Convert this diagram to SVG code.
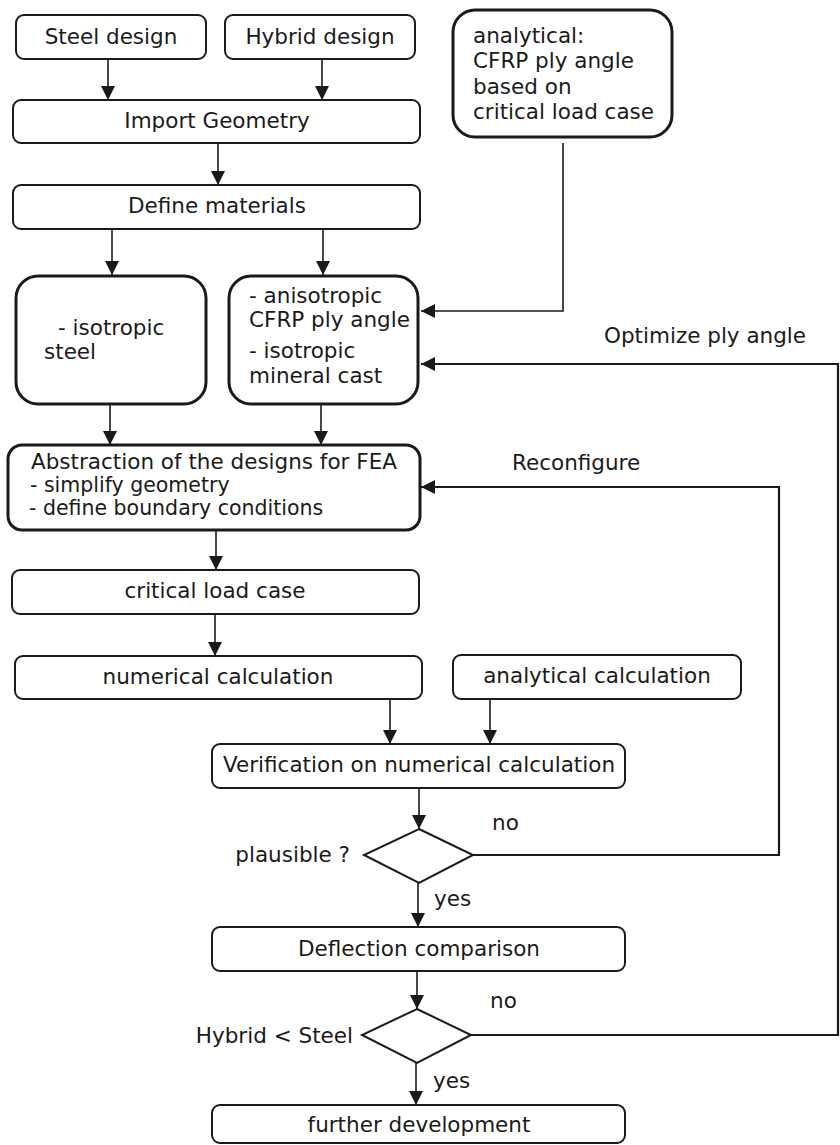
<svg xmlns="http://www.w3.org/2000/svg" width="840" height="1145" viewBox="0 0 840 1145">
<defs>
<style>
text{font-family:"DejaVu Sans","Verdana",sans-serif;font-size:21.5px;fill:#1a1a1a}
.c{text-anchor:middle}
.e{text-anchor:end}
.sm{font-size:20.5px}
.box{fill:#fff;stroke:#1a1a1a;stroke-width:2}
.thick{fill:#fff;stroke:#1a1a1a;stroke-width:3}
.dia{fill:#fff;stroke:#1a1a1a;stroke-width:2}
.ar{fill:none;stroke:#1a1a1a;stroke-width:1.6;marker-end:url(#ah)}
.lp{fill:none;stroke:#1a1a1a;stroke-width:2.2;marker-end:url(#ah)}
</style>
<marker id="ah" markerUnits="userSpaceOnUse" markerWidth="14" markerHeight="14" refX="14" refY="7" orient="auto">
<path d="M0,0 L14,7 L0,14 z" fill="#1a1a1a"/>
</marker>
</defs>
<rect width="840" height="1145" fill="#fff"/>

<g id="connectors">
<line class="ar" x1="108" y1="59" x2="108" y2="100"/>
<line class="ar" x1="322" y1="59" x2="322" y2="100"/>
<line class="ar" x1="218" y1="143" x2="218" y2="185"/>
<line class="ar" x1="112" y1="230" x2="112" y2="275"/>
<line class="ar" x1="323" y1="230" x2="323" y2="275"/>
<line class="ar" x1="110" y1="405" x2="110" y2="445"/>
<line class="ar" x1="321" y1="405" x2="321" y2="445"/>
<line class="ar" x1="216" y1="531" x2="216" y2="570"/>
<line class="ar" x1="215" y1="614" x2="215" y2="656"/>
<line class="ar" x1="390" y1="700" x2="390" y2="744"/>
<line class="ar" x1="490" y1="700" x2="490" y2="744"/>
<line class="ar" x1="419" y1="788" x2="419" y2="829"/>
<line class="ar" x1="418" y1="883" x2="418" y2="927"/>
<line class="ar" x1="417" y1="971" x2="417" y2="1009"/>
<line class="ar" x1="416" y1="1063" x2="416" y2="1105"/>
<polyline class="ar" points="563,143 563,311 421,311"/>
<polyline class="lp" points="473,855 779,855 779,487 421,487"/>
<polyline class="lp" points="471,1035 838,1035 838,364 421,364"/>
<text x="604" y="343">Optimize ply angle</text>
<text x="512" y="470">Reconfigure</text>
<text x="492" y="830">no</text>
<text x="434" y="906">yes</text>
<text x="490" y="1008">no</text>
<text x="433" y="1088">yes</text>
</g>

<g id="steel-design">
<rect class="box" x="16" y="15" width="190" height="44" rx="8"/>
<text class="c" x="111" y="44">Steel design</text>
</g>
<g id="hybrid-design">
<rect class="box" x="225" y="15" width="190" height="44" rx="8"/>
<text class="c" x="320" y="44">Hybrid design</text>
</g>
<g id="analytical-ply">
<rect class="thick" x="453" y="10" width="219" height="127" rx="22"/>
<text x="473" y="43">analytical:</text>
<text x="473" y="68">CFRP ply angle</text>
<text x="473" y="94">based on</text>
<text x="473" y="119">critical load case</text>
</g>
<g id="import-geometry">
<rect class="box" x="13" y="100" width="407" height="43" rx="8"/>
<text class="c" x="217" y="128">Import Geometry</text>
</g>
<g id="define-materials">
<rect class="box" x="13" y="185" width="407" height="44" rx="8"/>
<text class="c" x="217" y="213">Define materials</text>
</g>
<g id="isotropic-steel">
<rect class="thick" x="16" y="276" width="190" height="128" rx="22"/>
<text x="58" y="335">- isotropic</text>
<text x="44" y="359">steel</text>
</g>
<g id="anisotropic">
<rect class="thick" x="229" y="276" width="189" height="128" rx="22"/>
<text x="249" y="303">- anisotropic</text>
<text x="249" y="327">CFRP ply angle</text>
<text x="249" y="358">- isotropic</text>
<text x="249" y="383">mineral cast</text>
</g>
<g id="abstraction">
<rect class="thick" x="8" y="445" width="412" height="85" rx="14"/>
<text x="31" y="469">Abstraction of the designs for FEA</text>
<text class="sm" x="30" y="492">- simplify geometry</text>
<text class="sm" x="29" y="515">- define boundary conditions</text>
</g>
<g id="critical-load-case">
<rect class="box" x="12" y="570" width="407" height="44" rx="8"/>
<text class="c" x="215" y="598">critical load case</text>
</g>
<g id="numerical-calculation">
<rect class="box" x="15" y="656" width="407" height="43" rx="8"/>
<text class="c" x="218" y="684">numerical calculation</text>
</g>
<g id="analytical-calculation">
<rect class="box" x="453" y="655" width="288" height="44" rx="8"/>
<text class="c" x="597" y="683">analytical calculation</text>
</g>
<g id="verification">
<rect class="box" x="212" y="744" width="413" height="44" rx="8"/>
<text class="c" x="419" y="772">Verification on numerical calculation</text>
</g>
<g id="plausible">
<polygon class="dia" points="419,829 473,855 419,883 364,855"/>
<text class="e" x="350" y="862">plausible ?</text>
</g>
<g id="deflection-comparison">
<rect class="box" x="212" y="927" width="413" height="44" rx="8"/>
<text class="c" x="419" y="956">Deflection comparison</text>
</g>
<g id="hybrid-lt-steel">
<polygon class="dia" points="417,1009 471,1035 417,1063 362,1035"/>
<text class="e" x="353" y="1043">Hybrid &lt; Steel</text>
</g>
<g id="further-development">
<rect class="box" x="212" y="1105" width="413" height="38" rx="8"/>
<text class="c" x="419" y="1132">further development</text>
</g>
</svg>
